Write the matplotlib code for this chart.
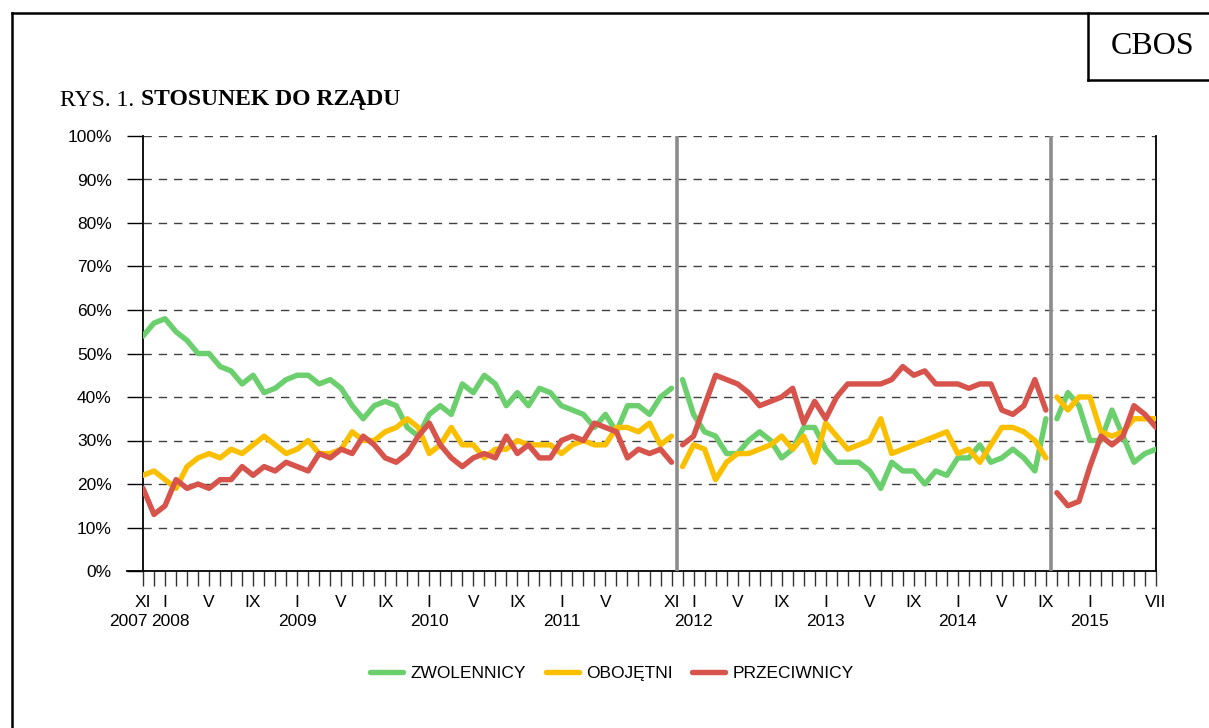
import numpy as np
import matplotlib
matplotlib.use("Agg")
import matplotlib.pyplot as plt
from matplotlib.lines import Line2D
import matplotlib.transforms as mtransforms

# Dane: miesiące od XI 2007 do VII 2015 (93 punkty)
zwolennicy = [54, 57, 58, 55, 53, 50, 50, 47, 46, 43, 45, 41, 42, 44, 45, 45, 43, 44, 42, 38,
              35, 38, 39, 38, 33, 31, 36, 38, 36, 43, 41, 45, 43, 38, 41, 38, 42, 41, 38, 37,
              36, 33, 36, 32, 38, 38, 36, 40, 42,
              44, 36, 32, 31, 27, 27, 30, 32, 30, 26, 28, 33, 33, 28, 25, 25, 25, 23, 19, 25,
              23, 23, 20, 23, 22, 26, 26, 29, 25, 26, 28, 26, 23, 35,
              35, 41, 38, 30, 30, 37, 31, 25, 27, 28]
obojetni = [22, 23, 21, 19, 24, 26, 27, 26, 28, 27, 29, 31, 29, 27, 28, 30, 27, 27, 28, 32,
            30, 30, 32, 33, 35, 33, 27, 29, 33, 29, 29, 26, 28, 28, 30, 29, 29, 29, 27, 29,
            30, 29, 29, 33, 33, 32, 34, 29, 31,
            24, 29, 28, 21, 25, 27, 27, 28, 29, 31, 28, 31, 25, 34, 31, 28, 29, 30, 35, 27,
            28, 29, 30, 31, 32, 27, 28, 25, 29, 33, 33, 32, 30, 26,
            40, 37, 40, 40, 32, 31, 32, 35, 35, 35]
przeciwnicy = [19, 13, 15, 21, 19, 20, 19, 21, 21, 24, 22, 24, 23, 25, 24, 23, 27, 26, 28, 27,
               31, 29, 26, 25, 27, 31, 34, 29, 26, 24, 26, 27, 26, 31, 27, 29, 26, 26, 30, 31,
               30, 34, 33, 32, 26, 28, 27, 28, 25,
               29, 31, 38, 45, 44, 43, 41, 38, 39, 40, 42, 34, 39, 35, 40, 43, 43, 43, 43, 44,
               47, 45, 46, 43, 43, 43, 42, 43, 43, 37, 36, 38, 44, 37,
               18, 15, 16, 24, 31, 29, 31, 38, 36, 33]

segmenty = [(0, 49), (49, 83), (83, 93)]
przerwy = [48.5, 82.5]

miesiace_poz = [0, 2, 6, 10, 14, 18, 22, 26, 30, 34, 38, 42, 48, 50, 54, 58, 62, 66, 70, 74,
                78, 82, 86, 92]
miesiace_lab = ["XI", "I", "V", "IX", "I", "V", "IX", "I", "V", "IX", "I", "V", "XI", "I",
                "V", "IX", "I", "V", "IX", "I", "V", "IX", "I", "VII"]
lata_poz = [-1.35, 2.45, 14, 26, 38, 50, 62, 74, 86]
lata_lab = ["2007", "2008", "2009", "2010", "2011", "2012", "2013", "2014", "2015"]

serie = [("ZWOLENNICY", zwolennicy, "#6BCF6E"),
         ("OBOJĘTNI", obojetni, "#FAC000"),
         ("PRZECIWNICY", przeciwnicy, "#D6544B")]

W, H = 1209, 728
fig = plt.figure(figsize=(W / 100, H / 100), dpi=100)
ax = fig.add_axes([143 / W, (H - 571) / H, (1156 - 143) / W, (571 - 136) / H])

x = np.arange(len(zwolennicy))
for nazwa, wart, kolor in serie:
    wart = np.array(wart, dtype=float)
    for i, (a, b) in enumerate(segmenty):
        ax.plot(x[a:b], wart[a:b], color=kolor, lw=3.9, solid_joinstyle="round",
                solid_capstyle="round", label=nazwa if i == 0 else None, zorder=3)

for p in przerwy:
    ax.axvline(p, color="#8C8C8C", lw=2.6, zorder=4)

ax.set_xlim(0, 92)
ax.set_ylim(0, 100)
ax.set_yticks(range(0, 101, 10))
ax.set_yticklabels([f"{v}%" for v in range(0, 101, 10)], fontsize=12.5,
                   family="Liberation Sans")
for v in range(10, 101, 10):
    ax.axhline(v, color="#404040", lw=1.0, dashes=(6, 5), zorder=1)

ax.set_xticks(range(0, 93))
lab = [""] * 93
for p, l in zip(miesiace_poz, miesiace_lab):
    lab[p] = l
ax.set_xticklabels(lab, fontsize=12.5, family="Liberation Sans")
ax.tick_params(axis="x", length=11, width=1, pad=6, color="#333333")
ax.tick_params(axis="y", length=11.5, width=1, pad=11)

tr = mtransforms.blended_transform_factory(ax.transData, ax.transAxes)
for p, l in zip(lata_poz, lata_lab):
    ax.text(p, -0.117, l, transform=tr, ha="center", va="center", fontsize=12.5,
            family="Liberation Sans")

ax.spines["top"].set_visible(False)
for s in ["left", "bottom", "right"]:
    ax.spines[s].set_linewidth(1.3)
ax.spines["bottom"].set_bounds(-1.45, 92)

# Ramka i tytuł
fig.add_artist(Line2D([12 / W, 1], [1 - 13 / H, 1 - 13 / H], color="black", lw=1.8))
fig.add_artist(Line2D([12 / W, 12 / W], [0, 1 - 13 / H], color="black", lw=1.8))
fig.add_artist(Line2D([1088 / W, 1088 / W], [1 - 13 / H, 1 - 80 / H], color="black", lw=1.8))
fig.add_artist(Line2D([1088 / W, 1], [1 - 80 / H, 1 - 80 / H], color="black", lw=1.8))
fig.text(1153 / W, 1 - 46 / H, "CBOS", ha="center", va="center", fontsize=23,
         family="Liberation Serif")

t1 = fig.text(60 / W, 1 - 100 / H, "RYS. 1. ", ha="left", va="center", fontsize=17,
              family="Liberation Serif")
fig.canvas.draw()
bb = t1.get_window_extent()
fig.text(bb.x1 / W + 1 / W, 1 - 100 / H, "STOSUNEK DO RZĄDU", ha="left", va="center",
         fontsize=17, family="Liberation Serif", fontweight="bold")

fig.legend(loc="center", bbox_to_anchor=(612 / W, 1 - 673 / H), ncol=3, frameon=False,
           prop={"family": "Liberation Sans", "size": 12.5}, handlelength=1.9,
           handletextpad=0.4, columnspacing=1.15)

fig.savefig("out.png", dpi=100)
